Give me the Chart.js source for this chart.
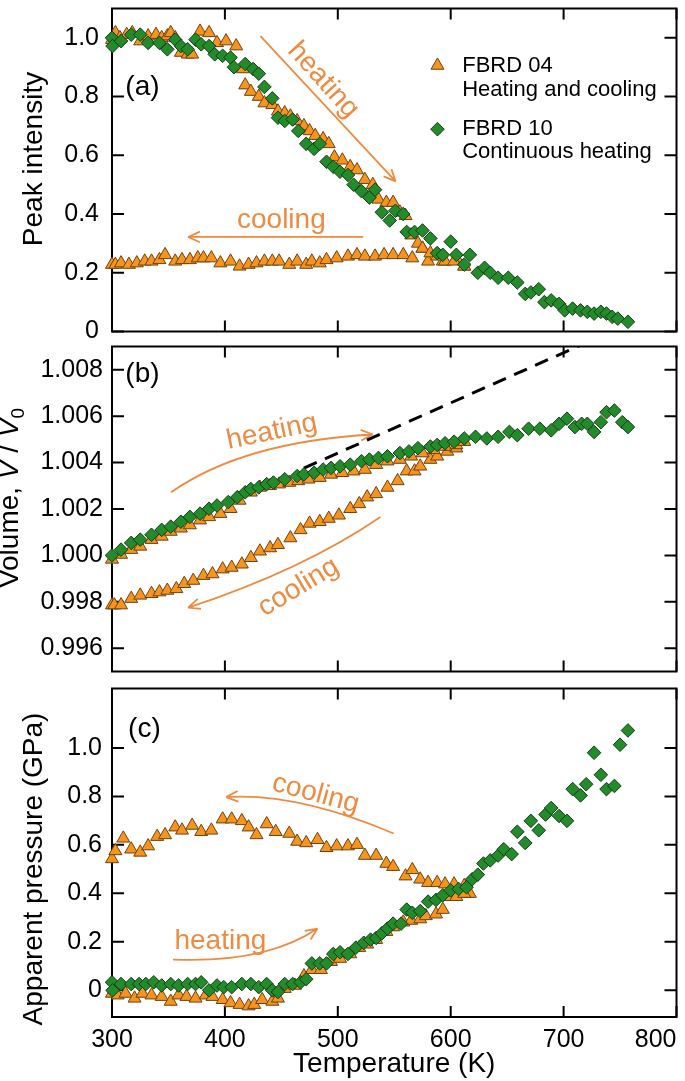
<!DOCTYPE html>
<html>
<head>
<meta charset="utf-8">
<title>FBRD 04 / FBRD 10 versus temperature</title>
<script src="https://cdn.jsdelivr.net/npm/chart.js@4.4.1/dist/chart.umd.min.js"></script>
<style>
  body { margin: 0; background: #fff; width: 685px; height: 1081px; overflow: hidden; position: relative; }
  canvas { position: absolute; left: 0; }
</style>
</head>
<body>
<canvas id="panelA" width="685" height="340" style="top:0px"></canvas>
<canvas id="panelB" width="685" height="342" style="top:338px"></canvas>
<canvas id="panelC" width="685" height="401" style="top:680px"></canvas>
<script>
// ---- axis ticks ----
const xTicks = [300, 400, 500, 600, 700, 800];
const xTickLabels = ['300', '400', '500', '600', '700', '800'];
const aTicks = [0, 0.2, 0.4, 0.6, 0.8, 1.0];
const aTickLabels = ['0', '0.2', '0.4', '0.6', '0.8', '1.0'];
const bTicks = [0.996, 0.998, 1.000, 1.002, 1.004, 1.006, 1.008];
const bTickLabels = ['0.996', '0.998', '1.000', '1.002', '1.004', '1.006', '1.008'];
const cTicks = [0, 0.2, 0.4, 0.6, 0.8, 1.0];
const cTickLabels = ['0', '0.2', '0.4', '0.6', '0.8', '1.0'];

// ---- (a) peak intensity ----
const aHeatT = [300,303,307,313,318,325,332,339,344,349,352,356,361,367,371,378,386,393,401,410,416,418,423,430,435,442,447,453,458,464,470,475,480,487,492,497,504,511,517,524,531,536,543,549,555,560,565,571,575,582,588,595,603,612];
const aHeatV = [0.994,1.017,1.000,1.011,1.017,0.989,1.006,1.011,1.000,1.006,1.017,1.000,0.950,0.944,0.944,1.022,1.017,0.983,0.989,0.972,0.894,0.839,0.817,0.800,0.778,0.772,0.750,0.744,0.733,0.717,0.700,0.683,0.667,0.656,0.639,0.594,0.583,0.561,0.550,0.517,0.500,0.450,0.439,0.439,0.406,0.394,0.328,0.300,0.283,0.267,0.256,0.239,0.239,0.222];
const aCoolT = [300,303,308,315,322,329,335,342,347,356,362,369,376,381,388,396,405,413,421,428,435,442,448,457,464,472,477,484,490,499,509,517,524,533,541,549,558,566,575,580,593,605,612];
const aCoolV = [0.228,0.228,0.233,0.228,0.233,0.239,0.239,0.244,0.261,0.239,0.244,0.244,0.250,0.250,0.250,0.233,0.239,0.222,0.228,0.233,0.239,0.239,0.239,0.228,0.239,0.228,0.239,0.233,0.244,0.250,0.256,0.261,0.256,0.256,0.261,0.261,0.261,0.250,0.283,0.239,0.239,0.250,0.222];
const aGreenT = [300,300.5,308,317,325,332,342,349,356,361,367,374,379,386,391,398,405,408,418,425,430,435,442,447,453,460,465,472,479,484,490,496,502,509,514,521,528,533,539,546,551,558,561,568,575,582,588,593,600,605,612,617,624,630,635,642,651,659,666,671,678,683,689,696,701,708,715,721,727,733,738,743,748,757];
const aGreenV = [1.000,0.972,0.989,1.011,1.011,0.983,0.983,0.961,0.994,0.972,0.961,0.994,0.978,0.972,0.944,0.939,0.933,0.900,0.911,0.894,0.878,0.833,0.794,0.728,0.717,0.722,0.683,0.639,0.622,0.639,0.578,0.561,0.544,0.533,0.500,0.478,0.456,0.483,0.406,0.378,0.411,0.400,0.339,0.339,0.344,0.317,0.267,0.261,0.306,0.261,0.228,0.261,0.200,0.217,0.200,0.183,0.183,0.167,0.128,0.133,0.144,0.100,0.106,0.094,0.072,0.078,0.072,0.067,0.061,0.067,0.061,0.050,0.044,0.033];

// ---- (b) volume V/V0 ----
const bHeatT = [300,308,317,325,335,344,352,361,369,378,386,396,405,413,423,431,440,448,457,465,474,484,494,504,514,524,534,544,555,565,575,585,595,605,612];
const bHeatV = [0.99983,1.00004,1.00025,1.00039,1.00068,1.00082,1.00103,1.00117,1.00131,1.00152,1.00166,1.00180,1.00201,1.00237,1.00272,1.00293,1.00300,1.00307,1.00314,1.00321,1.00328,1.00335,1.00349,1.00356,1.00363,1.00370,1.00391,1.00406,1.00413,1.00427,1.00441,1.00455,1.00469,1.00476,1.00490];
const bCoolT = [300,302,308,317,325,335,342,349,357,364,372,381,389,398,406,415,423,431,440,447,458,467,475,484,492,501,511,519,526,534,544,553,561,568,573,582,588,597,605];
const bCoolV = [0.99786,0.99786,0.99786,0.99814,0.99828,0.99835,0.99842,0.99849,0.99856,0.99878,0.99892,0.99913,0.99920,0.99941,0.99948,0.99962,0.99990,1.00018,1.00032,1.00046,1.00075,1.00110,1.00138,1.00145,1.00159,1.00173,1.00201,1.00222,1.00251,1.00265,1.00293,1.00321,1.00363,1.00363,1.00384,1.00413,1.00427,1.00448,1.00462];
const bGreenT = [300,308,317,325,335,344,352,361,369,378,386,393,403,411,418,423,430,437,443,453,464,470,479,487,494,502,511,521,528,536,544,555,563,571,582,588,595,603,612,622,632,642,652,659,669,679,689,696,703,710,716,721,727,733,738,745,752,757];
const bGreenV = [1.00000,1.00025,1.00054,1.00068,1.00089,1.00110,1.00124,1.00145,1.00166,1.00180,1.00201,1.00215,1.00230,1.00251,1.00272,1.00286,1.00293,1.00307,1.00314,1.00328,1.00342,1.00349,1.00356,1.00370,1.00377,1.00384,1.00391,1.00406,1.00413,1.00420,1.00427,1.00441,1.00448,1.00462,1.00469,1.00476,1.00483,1.00490,1.00504,1.00511,1.00504,1.00511,1.00532,1.00518,1.00546,1.00546,1.00539,1.00567,1.00589,1.00553,1.00567,1.00567,1.00532,1.00574,1.00617,1.00624,1.00574,1.00553];
// linear low-temperature expansion (dashed)
const bLineT = [470, 730];
const bLineV = [1.00376, 1.00938];

// ---- (c) apparent pressure ----
const cHeatT = [300,305,312,320,327,335,344,352,359,366,374,383,389,398,405,413,421,426,433,442,447,453,462,470,477,485,494,502,511,519,526,534,543,549,558,565,573,578,587,593,598,605,612];
const cHeatV = [-0.013,-0.020,-0.013,-0.033,-0.013,-0.020,-0.026,-0.046,-0.020,-0.026,-0.033,-0.020,-0.026,-0.039,-0.052,-0.059,-0.065,-0.059,-0.039,-0.046,-0.033,0.007,0.020,0.059,0.085,0.085,0.118,0.131,0.150,0.176,0.190,0.209,0.242,0.261,0.281,0.288,0.294,0.307,0.314,0.333,0.386,0.386,0.399];
const cCoolT = [300,303,310,317,325,332,340,347,356,362,371,379,388,398,406,415,421,428,437,445,457,464,472,482,490,499,509,517,524,534,543,549,560,566,573,580,588,595,603,612,617];
const cCoolV = [0.542,0.575,0.627,0.582,0.569,0.595,0.634,0.641,0.673,0.660,0.680,0.654,0.660,0.706,0.706,0.699,0.673,0.641,0.686,0.654,0.647,0.614,0.608,0.621,0.588,0.595,0.595,0.601,0.556,0.556,0.523,0.510,0.471,0.497,0.458,0.444,0.444,0.438,0.438,0.431,0.399];
const cGreenT = [300,300.5,308,317,324,330,337,344,352,359,367,374,379,386,393,399,406,415,423,430,437,442,447,453,460,467,472,477,484,490,496,502,509,516,523,529,534,539,544,549,556,561,566,573,580,587,593,600,607,614,619,624,629,635,642,647,654,659,666,671,678,684,689,696,703,708,715,720,727,733,738,745,750,757];
const cGreenV = [0.033,0.000,0.026,0.026,0.026,0.026,0.033,0.020,0.026,0.020,0.026,0.026,0.033,0.000,0.020,0.013,0.013,0.026,0.026,0.013,0.026,0.000,-0.007,0.026,0.026,0.033,0.046,0.111,0.111,0.111,0.150,0.157,0.150,0.176,0.196,0.209,0.216,0.235,0.255,0.275,0.275,0.333,0.320,0.327,0.366,0.373,0.392,0.412,0.418,0.425,0.458,0.477,0.523,0.536,0.556,0.582,0.562,0.654,0.608,0.699,0.660,0.725,0.752,0.719,0.699,0.830,0.804,0.850,0.980,0.889,0.830,0.843,1.013,1.072];

// ---- styles ----
const FONT = '"Liberation Sans", Arial, Helvetica, sans-serif';
const ORANGE = '#F7941D', ORANGE_EDGE = '#6E4112';
const GREEN = '#228B2A', GREEN_EDGE = '#173A19';
const NOTE = '#EE8B40';
Chart.defaults.font.family = FONT;

function pts(T, V) { return T.map((t, i) => ({x: t, y: V[i]})); }

function greenSet(T, V) {
  return {label: 'FBRD 10', data: pts(T, V), pointStyle: 'rectRot', pointRadius: 6.8,
    backgroundColor: GREEN, borderColor: GREEN_EDGE, borderWidth: 1, clip: false};
}
function orangeSet(label, T, V) {
  return {label: label, data: pts(T, V), pointStyle: 'triangle', pointRadius: 7.5,
    backgroundColor: ORANGE, borderColor: ORANGE_EDGE, borderWidth: 1, clip: false};
}

function yScale(min, max, ticks, labels, pad) {
  return {
    type: 'linear', min: min, max: max,
    grid: {display: false, drawTicks: false}, border: {display: false},
    ticks: {padding: pad, color: '#000', font: {size: 25}, autoSkip: false,
      callback: (v, i) => labels[i]},
    afterBuildTicks: s => { s.ticks = ticks.map(v => ({value: v})); },
    afterFit: s => { s.width = 112; s.paddingTop = 0; s.paddingBottom = 0; }
  };
}

// arrow: quadratic curve start -> control -> end, open head at end
function drawArrow(chart, q) {
  const {ctx, scales: {x, y}} = chart;
  const p = q.map(d => [x.getPixelForValue(d[0]), y.getPixelForValue(d[1])]);
  ctx.beginPath();
  ctx.moveTo(p[0][0], p[0][1]);
  ctx.quadraticCurveTo(p[1][0], p[1][1], p[2][0], p[2][1]);
  const ang = Math.atan2(p[2][1] - p[1][1], p[2][0] - p[1][0]);
  [-1, 1].forEach(s => {
    const a2 = ang + Math.PI + s * 0.42;
    ctx.moveTo(p[2][0], p[2][1]);
    ctx.lineTo(p[2][0] + 13 * Math.cos(a2), p[2][1] + 13 * Math.sin(a2));
  });
  ctx.stroke();
}

function drawNote(chart, n) {
  const {ctx, scales: {x, y}} = chart;
  ctx.save();
  ctx.translate(x.getPixelForValue(n.x), y.getPixelForValue(n.y));
  ctx.rotate((n.rot || 0) * Math.PI / 180);
  ctx.font = (n.size || 28) + 'px ' + FONT;
  ctx.fillStyle = n.color || NOTE;
  ctx.textAlign = n.align || 'center';
  ctx.textBaseline = 'middle';
  ctx.fillText(n.t, 0, 0);
  ctx.restore();
}

function drawMarker(ctx, kind, px, py) {
  ctx.beginPath();
  if (kind === 'tri') {
    const r = 7.5;
    ctx.moveTo(px, py - r);
    ctx.lineTo(px + r * 0.866, py + r * 0.5);
    ctx.lineTo(px - r * 0.866, py + r * 0.5);
  } else {
    const r = 6.8;
    ctx.moveTo(px - r, py); ctx.lineTo(px, py - r); ctx.lineTo(px + r, py); ctx.lineTo(px, py + r);
  }
  ctx.closePath();
  ctx.fillStyle = kind === 'tri' ? ORANGE : GREEN;
  ctx.strokeStyle = kind === 'tri' ? ORANGE_EDGE : GREEN_EDGE;
  ctx.lineWidth = 1;
  ctx.fill(); ctx.stroke();
}

// y title made of parts (italic / subscript), rotated -90deg
function drawYTitle(ctx, parts, xBase, yMid) {
  const fontOf = p => (p.it ? 'italic ' : '') + (p.sub ? 19 : 28) + 'px ' + FONT;
  let total = 0;
  parts.forEach(p => { ctx.font = fontOf(p); p.w = ctx.measureText(p.t).width; total += p.w; });
  ctx.save();
  ctx.translate(xBase, yMid);
  ctx.rotate(-Math.PI / 2);
  ctx.fillStyle = '#000';
  ctx.textAlign = 'left';
  ctx.textBaseline = 'alphabetic';
  let cx = -total / 2;
  parts.forEach(p => {
    ctx.font = fontOf(p);
    ctx.fillText(p.t, cx, p.sub ? 6 : 0);
    cx += p.w;
  });
  ctx.restore();
}

function makeDeco(p) {
  return {
    id: 'deco',
    beforeDatasetsDraw(chart) {
      const {ctx, chartArea: a, scales: {x, y}} = chart;
      ctx.save();
      ctx.strokeStyle = '#000';
      ctx.lineWidth = 2;
      ctx.strokeRect(a.left, a.top, a.right - a.left, a.bottom - a.top);
      ctx.beginPath();
      xTicks.forEach(v => {
        const px = x.getPixelForValue(v);
        ctx.moveTo(px, a.top); ctx.lineTo(px, a.top + 11);
        ctx.moveTo(px, a.bottom); ctx.lineTo(px, a.bottom - 11);
      });
      p.yTicks.forEach(v => {
        const py = y.getPixelForValue(v);
        ctx.moveTo(a.left, py); ctx.lineTo(a.left + 12, py);
        ctx.moveTo(a.right, py); ctx.lineTo(a.right - 12, py);
      });
      ctx.stroke();
      ctx.strokeStyle = NOTE;
      ctx.lineWidth = 1.8;
      p.arrows.forEach(q => drawArrow(chart, q));
      p.notes.forEach(n => drawNote(chart, n));
      ctx.restore();
    },
    afterDraw(chart) {
      const {ctx, scales: {x, y}} = chart;
      (p.legend || []).forEach(l => {
        drawMarker(ctx, l.kind, x.getPixelForValue(l.mx), y.getPixelForValue(l.lines[0][1]));
        l.lines.forEach(s => drawNote(chart, {t: s[0], x: l.tx, y: s[1], size: 22, color: '#000', align: 'left'}));
      });
      drawYTitle(ctx, p.title, p.titleX, p.titleY);
    }
  };
}

function makeChart(id, p) {
  const scales = {
    x: {type: 'linear', min: 300, max: 800, display: false},
    y: yScale(p.yMin, p.yMax, p.yTicks, p.yLabels, p.yPad)
  };
  if (p.showX) {
    scales.x = {
      type: 'linear', min: 300, max: 800, position: 'bottom',
      grid: {display: false, drawTicks: false}, border: {display: false},
      ticks: {padding: 8, color: '#000', font: {size: 25}, align: 'inner', autoSkip: false, maxRotation: 0,
        callback: (v, i) => i === 0 ? '' : xTickLabels[i - 1]},
      afterBuildTicks: s => { s.ticks = [{value: 300}].concat(xTicks.map(v => ({value: v}))); },
      afterFit: s => { s.height = 64; s.paddingLeft = 0; s.paddingRight = 0; },
      title: {display: true, text: 'Temperature (K)', color: '#000', font: {size: 28}, padding: {top: 0, bottom: 0}}
    };
  }
  return new Chart(document.getElementById(id), {
    type: 'scatter',
    data: {datasets: p.datasets},
    options: {
      responsive: false, animation: false, events: [], devicePixelRatio: 1,
      layout: {padding: p.pad},
      plugins: {legend: {display: false}, tooltip: {enabled: false}},
      scales: scales
    },
    plugins: [makeDeco(p)]
  });
}

makeChart('panelA', {
  yMin: 0, yMax: 1.1, yTicks: aTicks, yLabels: aTickLabels, yPad: 13,
  pad: {top: 2, bottom: 8, left: 0, right: 3},
  datasets: [greenSet(aGreenT, aGreenV), orangeSet('FBRD 04 heating', aHeatT, aHeatV), orangeSet('FBRD 04 cooling', aCoolT, aCoolV)],
  arrows: [
    [[431.5, 1.006], [491, 0.759], [551.2, 0.511]],
    [[522.5, 0.322], [445, 0.322], [367.4, 0.322]]
  ],
  notes: [
    {t: '(a)', x: 327, y: 0.833, color: '#000'},
    {t: 'heating', x: 487, y: 0.856, rot: 48},
    {t: 'cooling', x: 450, y: 0.378}
  ],
  legend: [
    {kind: 'tri', mx: 588.3, tx: 610.2, lines: [['FBRD 04', 0.906], ['Heating and cooling', 0.822]]},
    {kind: 'dia', mx: 588.3, tx: 610.2, lines: [['FBRD 10', 0.689], ['Continuous heating', 0.611]]}
  ],
  title: [{t: 'Peak intensity'}], titleX: 42, titleY: 159
});

makeChart('panelB', {
  yMin: 0.995, yMax: 1.009, yTicks: bTicks, yLabels: bTickLabels, yPad: 9,
  pad: {top: 5, bottom: 5, left: 0, right: 3},
  datasets: [
    greenSet(bGreenT, bGreenV),
    orangeSet('FBRD 04 heating', bHeatT, bHeatV),
    orangeSet('FBRD 04 cooling', bCoolT, bCoolV),
    {label: 'linear', type: 'line', data: pts(bLineT, bLineV), showLine: true, borderColor: '#000',
      borderWidth: 3, borderDash: [14, 9], pointRadius: 0, fill: false}
  ],
  arrows: [
    [[352.3, 1.00272], [416.3, 1.0049], [531, 1.00521]],
    [[537.7, 1.00166], [470.3, 0.99941], [367.4, 0.99775]]
  ],
  notes: [
    {t: '(b)', x: 327, y: 1.00779, color: '#000'},
    {t: 'heating', x: 441.6, y: 1.00532, rot: -12},
    {t: 'cooling', x: 465.2, y: 0.99863, rot: -31}
  ],
  title: [{t: 'Volume, '}, {t: 'V', it: true}, {t: ' / '}, {t: 'V', it: true}, {t: '0', sub: true}],
  titleX: 18, titleY: 160
});

makeChart('panelC', {
  yMin: -0.11, yMax: 1.245, yTicks: cTicks, yLabels: cTickLabels, yPad: 10, showX: true,
  pad: {top: 6, bottom: 0, left: 0, right: 3},
  datasets: [greenSet(cGreenT, cGreenV), orangeSet('FBRD 04 heating', cHeatT, cHeatV), orangeSet('FBRD 04 cooling', cCoolT, cCoolV)],
  arrows: [
    [[549.5, 0.647], [463.5, 0.817], [401.1, 0.797]],
    [[354, 0.127], [436.5, 0.111], [482, 0.255]]
  ],
  notes: [
    {t: '(c)', x: 328.7, y: 1.078, color: '#000'},
    {t: 'cooling', x: 480.4, y: 0.81, rot: 15},
    {t: 'heating', x: 396, y: 0.2026}
  ],
  title: [{t: 'Apparent pressure (GPa)'}], titleX: 42, titleY: 189
});
</script>
</body>
</html>
